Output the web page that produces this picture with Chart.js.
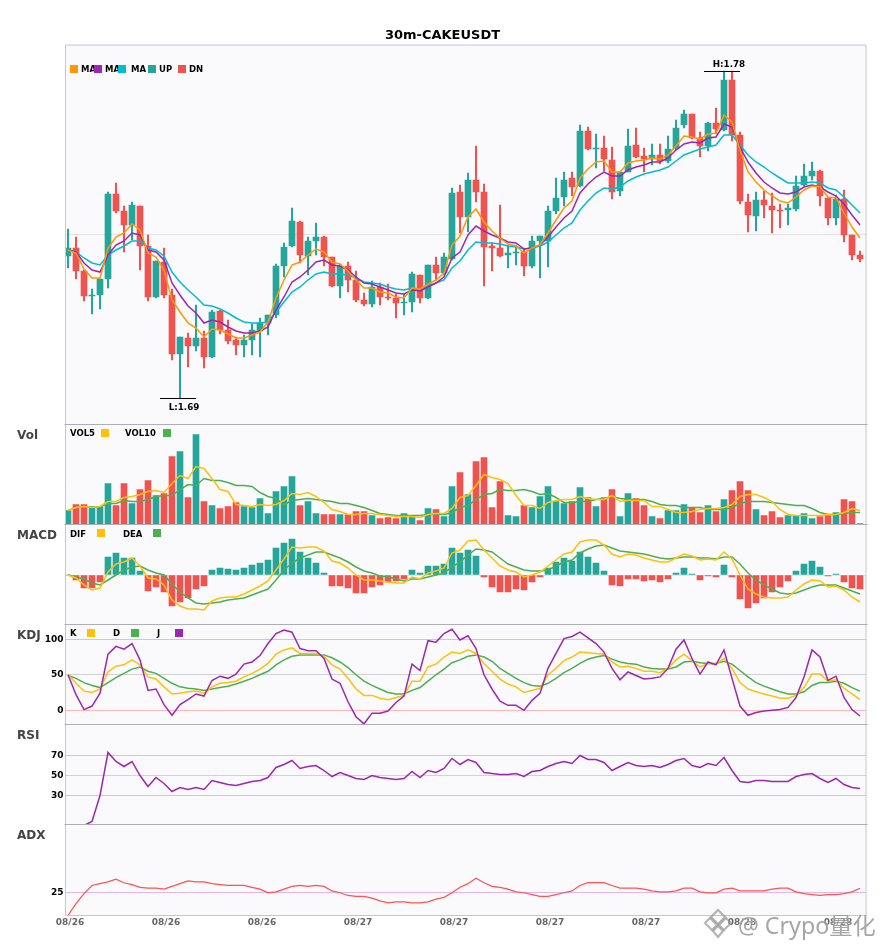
<!DOCTYPE html>
<html><head><meta charset="utf-8"><title>30m-CAKEUSDT</title>
<script src="https://cdn.jsdelivr.net/npm/chart.js@4/dist/chart.umd.min.js"></script>
<style>
html,body{margin:0;padding:0;background:#fff;width:885px;height:950px;overflow:hidden;font-family:"DejaVu Sans",sans-serif}
#wrap{position:relative;width:885px;height:950px}
canvas{position:absolute;left:0;top:0}
.t{position:absolute;font-weight:bold;white-space:nowrap;line-height:10px;height:10px;color:#000;font-size:8.5px}
.b{position:absolute;width:8px;height:8px}
.p{position:absolute;font-weight:bold;font-size:12px;color:#444;line-height:14px;left:17px}
#wm{position:absolute;left:738px;top:910px;font:23.2px "Noto Sans","Noto Sans CJK SC",sans-serif;color:rgba(130,130,130,.72);line-height:30px;white-space:nowrap;text-shadow:0 0 2px rgba(255,255,255,.9)}
#wmi{position:absolute;left:703px;top:907px}
</style></head><body><div id="wrap"><canvas id="c" width="885" height="950"></canvas></div>
<script>
const tickLabels=['08/26','08/26','08/26','08/27','08/27','08/27','08/27','08/28','08/28'];
const opens=[1.7286,1.7310,1.7241,1.7166,1.7169,1.7217,1.7472,1.7421,1.7379,1.7436,1.7316,1.7163,1.7268,1.7169,1.6992,1.7040,1.7016,1.7040,1.6983,1.7121,1.7064,1.7034,1.7019,1.7034,1.7061,1.7085,1.7109,1.7256,1.7316,1.7388,1.7286,1.7331,1.7343,1.7283,1.7196,1.7256,1.7214,1.7154,1.7142,1.7193,1.7163,1.7160,1.7145,1.7148,1.7229,1.7160,1.7259,1.7235,1.7277,1.7478,1.7403,1.7514,1.7478,1.7316,1.7310,1.7289,1.7295,1.7298,1.7256,1.7331,1.7331,1.7421,1.7463,1.7520,1.7496,1.7661,1.7607,1.7610,1.7574,1.7481,1.7538,1.7619,1.7586,1.7577,1.7589,1.7571,1.7607,1.7679,1.7712,1.7640,1.7616,1.7685,1.7664,1.7814,1.7649,1.7448,1.7406,1.7454,1.7436,1.7424,1.7424,1.7427,1.7499,1.7526,1.7541,1.7460,1.7400,1.7457,1.7349,1.7289];
const closes=[1.7310,1.7241,1.7166,1.7169,1.7217,1.7472,1.7421,1.7379,1.7439,1.7316,1.7163,1.7271,1.7169,1.6992,1.7043,1.7016,1.7040,1.6983,1.7118,1.7064,1.7031,1.7019,1.7034,1.7064,1.7085,1.7109,1.7256,1.7313,1.7391,1.7289,1.7331,1.7343,1.7283,1.7196,1.7256,1.7214,1.7154,1.7142,1.7193,1.7163,1.7160,1.7145,1.7148,1.7232,1.7160,1.7259,1.7235,1.7283,1.7475,1.7403,1.7514,1.7478,1.7313,1.7310,1.7286,1.7295,1.7298,1.7256,1.7331,1.7346,1.7421,1.7460,1.7514,1.7493,1.7661,1.7607,1.7610,1.7577,1.7478,1.7538,1.7616,1.7583,1.7577,1.7589,1.7571,1.7607,1.7670,1.7712,1.7640,1.7616,1.7685,1.7667,1.7814,1.7649,1.7451,1.7409,1.7454,1.7439,1.7424,1.7421,1.7430,1.7496,1.7526,1.7541,1.7466,1.7400,1.7457,1.7349,1.7289,1.7277];
const highs=[1.7367,1.7343,1.7244,1.7187,1.7217,1.7478,1.7505,1.7436,1.7448,1.7436,1.7349,1.7271,1.7310,1.7187,1.7043,1.7055,1.7139,1.7061,1.7124,1.7124,1.7094,1.7043,1.7049,1.7082,1.7100,1.7109,1.7262,1.7325,1.7430,1.7391,1.7343,1.7385,1.7346,1.7283,1.7262,1.7268,1.7241,1.7175,1.7211,1.7205,1.7202,1.7172,1.7172,1.7238,1.7229,1.7259,1.7283,1.7295,1.7490,1.7499,1.7535,1.7616,1.7502,1.7325,1.7439,1.7319,1.7319,1.7310,1.7346,1.7346,1.7436,1.7520,1.7538,1.7538,1.7679,1.7673,1.7652,1.7646,1.7613,1.7538,1.7667,1.7670,1.7610,1.7622,1.7622,1.7646,1.7694,1.7724,1.7712,1.7658,1.7688,1.7730,1.7841,1.7841,1.7658,1.7472,1.7478,1.7481,1.7475,1.7442,1.7442,1.7526,1.7562,1.7568,1.7544,1.7460,1.7469,1.7484,1.7349,1.7301];
const lows=[1.7250,1.7217,1.7151,1.7112,1.7127,1.7190,1.7415,1.7298,1.7334,1.7244,1.7151,1.7160,1.7160,1.6974,1.6860,1.6953,1.7001,1.6950,1.6980,1.7052,1.7022,1.6989,1.6983,1.6989,1.6983,1.7049,1.7100,1.7223,1.7313,1.7265,1.7229,1.7289,1.7256,1.7193,1.7160,1.7178,1.7148,1.7136,1.7133,1.7139,1.7154,1.7100,1.7109,1.7118,1.7145,1.7157,1.7214,1.7229,1.7274,1.7355,1.7358,1.7448,1.7196,1.7241,1.7283,1.7250,1.7259,1.7226,1.7250,1.7220,1.7253,1.7412,1.7436,1.7466,1.7493,1.7604,1.7550,1.7541,1.7457,1.7466,1.7538,1.7580,1.7538,1.7559,1.7562,1.7565,1.7604,1.7670,1.7637,1.7583,1.7601,1.7652,1.7661,1.7631,1.7442,1.7358,1.7361,1.7400,1.7355,1.7370,1.7379,1.7421,1.7496,1.7514,1.7436,1.7379,1.7379,1.7328,1.7274,1.7268];
const ma5=[1.7304,1.7295,1.7247,1.7220,1.7220,1.7310,1.7343,1.7355,1.7382,1.7364,1.7295,1.7283,1.7244,1.7154,1.7118,1.7085,1.7070,1.7043,1.7067,1.7064,1.7052,1.7040,1.7040,1.7049,1.7058,1.7088,1.7160,1.7214,1.7259,1.7268,1.7289,1.7307,1.7298,1.7268,1.7262,1.7241,1.7214,1.7190,1.7190,1.7178,1.7175,1.7163,1.7160,1.7190,1.7187,1.7202,1.7214,1.7235,1.7319,1.7346,1.7403,1.7427,1.7388,1.7361,1.7340,1.7322,1.7316,1.7295,1.7310,1.7319,1.7355,1.7394,1.7430,1.7451,1.7520,1.7547,1.7568,1.7571,1.7538,1.7538,1.7565,1.7571,1.7574,1.7580,1.7577,1.7589,1.7616,1.7646,1.7643,1.7637,1.7652,1.7655,1.7709,1.7688,1.7604,1.7538,1.7508,1.7484,1.7466,1.7451,1.7445,1.7463,1.7484,1.7496,1.7493,1.7463,1.7460,1.7415,1.7373,1.7340];
const ma10=[1.7304,1.7298,1.7265,1.7244,1.7238,1.7289,1.7319,1.7331,1.7355,1.7349,1.7304,1.7298,1.7274,1.7205,1.7169,1.7136,1.7115,1.7085,1.7094,1.7088,1.7073,1.7061,1.7055,1.7055,1.7061,1.7073,1.7124,1.7163,1.7208,1.7223,1.7244,1.7268,1.7274,1.7259,1.7256,1.7244,1.7223,1.7205,1.7202,1.7193,1.7184,1.7175,1.7172,1.7184,1.7181,1.7193,1.7205,1.7223,1.7280,1.7298,1.7349,1.7376,1.7361,1.7349,1.7340,1.7328,1.7325,1.7307,1.7310,1.7319,1.7343,1.7373,1.7400,1.7421,1.7475,1.7502,1.7523,1.7538,1.7526,1.7526,1.7544,1.7553,1.7559,1.7568,1.7568,1.7580,1.7604,1.7622,1.7628,1.7625,1.7640,1.7643,1.7682,1.7673,1.7613,1.7568,1.7535,1.7508,1.7490,1.7475,1.7472,1.7478,1.7493,1.7499,1.7493,1.7478,1.7466,1.7442,1.7409,1.7379];
const ma20=[1.7304,1.7298,1.7280,1.7265,1.7259,1.7289,1.7304,1.7316,1.7331,1.7331,1.7310,1.7304,1.7286,1.7238,1.7208,1.7184,1.7163,1.7139,1.7136,1.7127,1.7115,1.7100,1.7088,1.7085,1.7085,1.7088,1.7118,1.7148,1.7178,1.7193,1.7214,1.7232,1.7238,1.7232,1.7232,1.7229,1.7220,1.7208,1.7205,1.7202,1.7193,1.7187,1.7184,1.7190,1.7184,1.7196,1.7205,1.7214,1.7250,1.7271,1.7304,1.7328,1.7325,1.7325,1.7322,1.7316,1.7313,1.7307,1.7310,1.7316,1.7328,1.7349,1.7370,1.7385,1.7424,1.7451,1.7475,1.7490,1.7487,1.7493,1.7511,1.7523,1.7532,1.7538,1.7544,1.7553,1.7571,1.7589,1.7598,1.7607,1.7613,1.7619,1.7649,1.7649,1.7619,1.7589,1.7568,1.7553,1.7535,1.7520,1.7505,1.7505,1.7505,1.7508,1.7505,1.7490,1.7484,1.7463,1.7439,1.7415];
const vol=[14,20,20,18,18,41,19,41,21,35,44,29,31,68,73,27,90,23,19,16,18,22,18,17,26,11,33,38,48,19,23,11,10,10,10,10,13,13,9,6,7,6,11,8,4,16,15,8,38,52,30,63,67,17,43,9,8,19,17,28,38,23,21,23,37,27,18,27,35,8,31,26,19,8,6,14,14,20,17,12,19,13,25,34,43,34,15,9,13,7,9,9,11,6,8,9,12,25,23,1];
const vol5=[14,17,18,17,18,23,23,27,28,30,33,34,32,41,49,46,58,56,46,35,33,20,19,18,20,19,20,24,31,30,32,28,22,15,13,10,10,11,11,10,9,8,8,8,7,10,11,11,16,27,29,39,50,47,45,41,29,19,19,16,22,24,25,25,28,26,25,25,29,23,24,24,24,18,18,15,12,12,13,15,16,16,17,20,28,30,30,27,23,15,10,9,9,9,9,10,10,12,16,14];
const vol10=[14,17,18,17,18,21,21,24,23,23,25,28,29,29,35,40,39,46,44,44,42,39,39,38,32,28,26,20,24,25,26,25,24,23,21,21,19,17,14,11,10,9,9,9,9,10,10,10,12,17,19,25,30,31,35,34,34,35,33,30,31,27,22,22,23,23,25,26,28,26,25,25,25,23,20,19,19,17,17,17,15,15,15,17,21,23,23,23,22,21,20,19,19,16,12,10,10,11,12,12];
const macdHist=[0,-5,-13,-13,-7,18,22,17,17,4,-16,-12,-17,-31,-27,-23,-14,-11,5,7,6,5,7,10,12,15,27,32,36,23,17,12,2,-11,-11,-13,-18,-18,-12,-10,-7,-6,-4,5,2,9,9,11,27,22,25,19,-2,-12,-17,-17,-14,-15,-7,-2,7,13,17,14,23,18,12,4,-10,-11,-4,-4,-6,-5,-7,-4,2,7,1,-5,-1,-2,10,-2,-24,-33,-28,-23,-17,-12,-6,4,11,14,8,-1,1,-7,-13,-14];
const dif=[0,-3,-10,-15,-13,3,11,13,17,9,-3,-4,-10,-25,-31,-34,-34,-35,-26,-23,-22,-22,-19,-15,-11,-6,5,16,28,27,28,28,24,14,12,7,0,-5,-5,-6,-7,-8,-8,-2,-4,2,4,7,22,25,34,35,25,17,9,5,3,-2,0,3,9,15,21,23,33,35,35,30,21,18,21,20,17,15,13,13,17,21,19,15,16,15,23,16,0,-14,-19,-22,-23,-23,-22,-15,-9,-5,-6,-12,-11,-15,-22,-27];
const dea=[0,-2,-4,-8,-10,-5,0,5,8,9,5,2,0,-9,-17,-23,-28,-29,-28,-27,-25,-24,-23,-20,-17,-14,-5,5,12,17,20,23,23,20,17,13,8,4,2,-1,-2,-4,-6,-4,-4,-2,0,2,8,13,20,26,25,23,17,11,8,5,4,4,5,9,13,15,22,26,29,30,27,24,23,22,21,19,17,16,17,18,18,17,17,16,18,18,11,2,-5,-10,-14,-18,-19,-18,-15,-12,-10,-10,-10,-13,-16,-19];
const kLine=[50,38,27,25,30,54,62,64,71,64,47,44,33,23,24,26,27,24,33,38,39,41,47,52,58,66,79,85,88,80,80,80,76,64,58,45,30,21,21,17,15,18,21,41,41,61,65,75,82,80,85,80,66,55,44,37,33,25,28,31,50,59,70,75,82,81,80,79,68,61,62,59,55,55,53,59,71,79,70,61,66,65,73,59,39,30,26,23,20,17,17,21,32,51,51,41,43,31,23,15];
const dLine=[49,45,39,35,32,39,46,52,58,61,55,52,45,38,33,31,30,28,30,32,34,37,41,45,50,55,64,71,76,78,78,78,78,74,68,60,50,41,35,30,25,23,23,28,32,41,50,58,67,71,76,78,75,69,59,52,45,39,35,34,38,45,53,59,66,72,75,77,72,68,66,65,61,59,58,58,61,68,69,67,66,66,69,65,56,47,39,34,30,26,23,23,26,35,39,39,41,38,32,27];
const jLine=[50,22,1,6,24,79,90,86,94,71,28,30,8,-7,8,15,23,20,42,48,45,51,65,68,77,94,108,113,110,87,84,84,73,44,38,12,-9,-19,-4,-4,-1,11,20,65,56,98,96,108,114,99,105,87,50,30,13,7,7,0,14,24,59,80,101,104,110,102,94,82,59,43,54,49,44,45,47,59,86,99,73,51,68,64,85,45,6,-7,-3,-1,0,1,4,18,47,85,75,42,48,18,1,-8];
const rsi=[0,0,0,4,30,73,64,59,64,50,39,48,42,34,38,36,38,36,45,43,41,40,42,44,45,48,58,61,65,57,59,60,55,49,53,50,47,46,50,48,47,46,47,54,48,55,53,57,67,61,66,63,53,52,51,51,52,49,54,55,59,62,64,62,70,66,66,63,55,59,63,60,59,60,58,61,65,67,60,58,62,60,68,55,44,43,45,45,44,44,44,49,51,52,47,43,47,41,38,37];
const adx=[0,13,24,33,35,37,40,36,34,31,30,30,29,32,35,38,37,37,35,34,33,33,33,31,29,25,26,29,32,33,32,33,32,27,25,22,21,21,19,16,14,15,15,14,14,15,18,20,25,31,35,41,36,32,31,29,26,25,23,21,21,23,25,27,33,36,36,36,33,30,30,30,29,27,26,26,27,30,30,26,25,25,29,30,27,27,27,27,29,30,30,26,24,23,22,23,23,24,26,30];

const UP='#26a69a',DN='#ef5350',ORANGE='#ff9800',PURPLE='#9c27b0',CYAN='#00bcd4',YEL='#ffc107',GRN='#4caf50';
const isUp=i=>closes[i]>=opens[i];
const xy=a=>a.map((v,i)=>({x:i,y:v}));
const rng=(a,b)=>a.map((v,i)=>({x:i,y:[v,b[i]]}));
const line=(data,color,axis,order,w)=>({type:'line',data:xy(data),borderColor:color,borderWidth:w||1.5,pointRadius:0,tension:0,yAxisID:axis,order});
const bar=(data,color,axis,order,th)=>({type:'bar',data,backgroundColor:color,borderWidth:0,barThickness:th,grouped:false,yAxisID:axis,order});
const udColor=c=>isUp(c.dataIndex)?UP:DN;
const datasets=[
 line(ma5,ORANGE,'main',0),line(ma10,PURPLE,'main',1),line(ma20,CYAN,'main',2),
 bar(rng(opens,closes),udColor,'main',3,6),bar(rng(lows,highs),udColor,'main',4,1.4),
 line(vol5,YEL,'vol',0),line(vol10,GRN,'vol',1),bar(xy(vol),udColor,'vol',2,6),
 line(dif,YEL,'macd',0),line(dea,GRN,'macd',1),bar(xy(macdHist),c=>macdHist[c.dataIndex]>=0?UP:DN,'macd',2,6),
 line(kLine,YEL,'kdj',1),line(dLine,GRN,'kdj',2),line(jLine,PURPLE,'kdj',0),
 line(rsi,PURPLE,'rsi',0),
 line(adx,'#ff5252','adx',0,1.25)
];
const TEAL_G='#a6dcd8',GRAY_G='#d2d2d2',PINK_G='#ffb6b6';
function yAxis(min,max,weight,vals,colors,labels){return {
 type:'linear',position:'left',stack:'panels',stackWeight:weight,min,max,offset:false,
 border:{display:false},
 grid:{offset:false,drawTicks:false,color:c=>colors[vals.indexOf(c.tick.value)]||'transparent',lineWidth:1},
 afterBuildTicks:s=>{s.ticks=vals.map(v=>({value:v}))},
 afterFit:s=>{s.width=65.5},
 ticks:{display:labels,padding:2,autoSkip:false,color:'#000',font:{family:'"DejaVu Sans"',weight:'bold',size:9},callback:v=>String(v)}
};}
const panelsPlugin={id:'panels',
 beforeDraw(ch){const {ctx,chartArea:a,scales:s}=ch;ctx.save();ctx.fillStyle='#fafafc';ctx.fillRect(a.left,a.top,a.right-a.left,a.bottom-a.top);ctx.restore();},
 afterDatasetsDraw(ch){const {ctx,chartArea:a,scales:s}=ch;ctx.save();
  ctx.lineWidth=1;
  ctx.strokeStyle='#c6c6d0';ctx.beginPath();ctx.moveTo(a.left,a.top);ctx.lineTo(a.left,a.bottom);ctx.moveTo(a.right,a.top);ctx.lineTo(a.right,a.bottom);ctx.moveTo(a.left,a.top);ctx.lineTo(a.right,a.top);ctx.moveTo(a.left,a.bottom);ctx.lineTo(a.right,a.bottom);ctx.stroke();
  ctx.strokeStyle='#aeaeb6';ctx.beginPath();['main','vol','macd','kdj','rsi'].forEach(k=>{const y=s[k].bottom;ctx.moveTo(a.left-1,y);ctx.lineTo(a.right+1.5,y);});ctx.stroke();
  const m=s.main,x=s.x;
  const hi=Math.max(...highs),lo=Math.min(...lows),hx=x.getPixelForValue(highs.indexOf(hi)),lx=x.getPixelForValue(lows.indexOf(lo));
  const hy=Math.round(m.getPixelForValue(hi))+.5,ly=Math.round(m.getPixelForValue(lo))+.5;
  ctx.strokeStyle='#000';ctx.beginPath();ctx.moveTo(hx-20,hy);ctx.lineTo(hx+16,hy);ctx.moveTo(lx-20,ly);ctx.lineTo(lx+16,ly);ctx.stroke();
  ctx.fillStyle='#000';ctx.font='bold 8.75px "DejaVu Sans"';ctx.textAlign='center';ctx.textBaseline='middle';
  ctx.fillText('H:'+hi.toFixed(2),hx+5,hy-6.5);ctx.fillText('L:'+lo.toFixed(2),lx+4,ly+9);
  ctx.restore();},
 beforeDatasetDraw(ch,args){const y=ch.scales[args.meta.yAxisID],a=ch.chartArea,c=ch.ctx;c.save();c.beginPath();c.rect(a.left,y.top,a.right-a.left,y.bottom-y.top);c.clip();},
 afterDatasetDraw(ch){ch.ctx.restore();}
};
new Chart(document.getElementById('c'),{
 data:{datasets},
 plugins:[panelsPlugin],
 options:{responsive:false,animation:false,devicePixelRatio:1,
  layout:{padding:{left:0,right:0,top:0,bottom:14.5}},
  plugins:{legend:{display:false},tooltip:{enabled:false},
   title:{display:true,text:'30m-CAKEUSDT',color:'#000',font:{family:'"DejaVu Sans"',weight:'bold',size:13},padding:{top:28,bottom:1.4}}},
  scales:{
   x:{type:'linear',min:-0.3125,max:99.75,offset:false,position:'bottom',border:{display:false},grid:{display:false,drawTicks:false,offset:false},
    afterBuildTicks:s=>{s.ticks=tickLabels.map((_,k)=>({value:k*12}))},
    afterFit:s=>{s.height=20},
    ticks:{autoSkip:false,maxRotation:0,minRotation:0,padding:2,labelOffset:2,color:'#666',font:{family:'"DejaVu Sans"',weight:'bold',size:9},callback:v=>tickLabels[v/12]}},
   adx:yAxis(0,100,91,[25],['#e2b6ea'],true),
   rsi:yAxis(1,101,100,[30,50,70],[PINK_G,GRAY_G,TEAL_G],true),
   kdj:yAxis(-20,120.8,100,[0,50,100],[PINK_G,GRAY_G,TEAL_G],true),
   macd:yAxis(-49.5,50.5,100,[0],['#e4e4e8'],false),
   vol:yAxis(0,100,100,[],[],false),
   main:yAxis(1.67805,1.7919,379.5,[1.735],['#e2e2e2'],false),
   rightGutter:{type:'linear',position:'right',border:{display:false},grid:{display:false,drawTicks:false},ticks:{display:false},afterFit:s=>{s.width=19}}
  }
 }
});
const wrap=document.getElementById('wrap');
function text(cls,s,x,y,extra){const d=document.createElement('div');d.className=cls;d.textContent=s;d.style.left=x+'px';d.style.top=y+'px';if(extra)Object.assign(d.style,extra);wrap.appendChild(d);}
function box(c,x,y){const d=document.createElement('div');d.className='b';d.style.background=c;d.style.left=x+'px';d.style.top=y+'px';wrap.appendChild(d);}
[['Vol',427.5],['MACD',527.5],['KDJ',627.5],['RSI',727.5],['ADX',827.5]].forEach(p=>text('p',p[0],17,p[1]));
box(ORANGE,70,65);text('t','MA',81,64);box(PURPLE,94,65);text('t','MA',105,64);box(CYAN,118,65);text('t','MA',131,64);box(UP,148,65);text('t','UP',159,64);box(DN,178,65);text('t','DN',189,64);
text('t','VOL5',70,428);box(YEL,101,429);text('t','VOL10',125,428);box(GRN,163,429);
text('t','DIF',70,529);box(YEL,97,529);text('t','DEA',123,529);box(GRN,153,529);
text('t','K',70,628);box(YEL,87,629);text('t','D',113,628);box(GRN,131,629);text('t','J',157,628);box(PURPLE,175,629);
const wm=document.createElement('div');wm.id='wm';wm.textContent='@ Crypo量化';wrap.appendChild(wm);
wrap.insertAdjacentHTML('beforeend','<svg id="wmi" width="30" height="32" viewBox="0 0 30 32" fill="none" stroke="rgba(150,150,150,.7)" stroke-width="2.2"><path d="M15 3 L22 10 L15 17 L8 10 Z"/><path d="M7 11 L14 18 L9 23 L2 16 Z"/><path d="M23 11 L28 16 L21 23 L16 18 Z"/><path d="M15 19 L20 24 L15 30 L10 24 Z"/></svg>');
</script></body></html>
